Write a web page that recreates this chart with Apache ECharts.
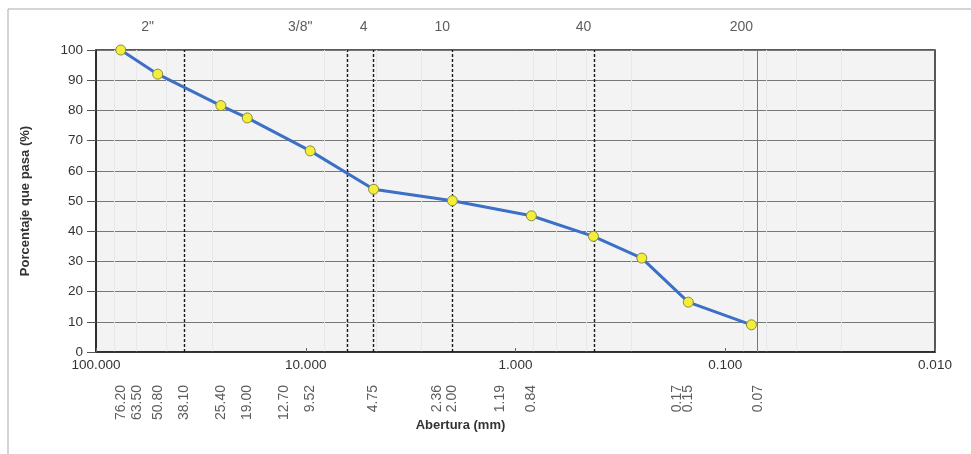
<!DOCTYPE html>
<html>
<head>
<meta charset="utf-8">
<script src="https://cdn.jsdelivr.net/npm/echarts@6/dist/echarts.min.js"></script>
<style>
  html, body { margin: 0; padding: 0; background: #fff; }
  #chart { width: 971px; height: 454px; }
</style>
</head>
<body>
<div id="chart"></div>
<script>
// curva granulometrica
var abertura = [76.2, 50.8, 25.4, 19.0, 9.52, 4.75, 2.0, 0.84, 0.425, 0.25, 0.15, 0.075];
var pasa = [100, 92, 81.6, 77.5, 66.6, 53.9, 50.1, 45.1, 38.3, 31.1, 16.5, 9.0];
// tamices (arriba)
var tamizNombre = ['2"', '3/8"', '4', '10', '40', '200'];
var tamizAbertura = [50.8, 9.52, 4.75, 2.0, 0.425, 0.075];
// aberturas escritas debajo del eje
var aberturaTexto = ['76.20', '63.50', '50.80', '38.10', '25.40', '19.00', '12.70', '9.52', '4.75', '2.36', '2.00', '1.19', '0.84', '0.17', '0.15', '0.07'];
var aberturaValor = [76.2, 63.5, 50.8, 38.1, 25.4, 19.0, 12.7, 9.52, 4.75, 2.36, 2.0, 1.19, 0.84, 0.17, 0.15, 0.07];
// lineas verticales
var lineasPunteadas = [38.1, 6.35, 4.75, 2.0, 0.425];
var lineaContinua = [0.075];

var font = 'Liberation Sans, Arial, sans-serif';
var chart = echarts.init(document.getElementById('chart'));

var marks = [];
for (var i = 0; i < lineasPunteadas.length; i++) {
    marks.push({ xAxis: lineasPunteadas[i], lineStyle: { type: [3, 2], color: '#1a1a1a', width: 1.4 } });
}
for (var j = 0; j < lineaContinua.length; j++) {
    marks.push({ xAxis: lineaContinua[j], lineStyle: { type: 'solid', color: '#777', width: 1 } });
}

var topData = tamizAbertura.map(function (v, k) { return { value: [v, 100], name: tamizNombre[k] }; });
var botData = aberturaValor.map(function (v, k) { return { value: [v, 0], name: aberturaTexto[k] }; });

chart.setOption({
    animation: false,
    backgroundColor: '#fff',
    graphic: [{
        type: 'rect', shape: { x: 8, y: 9, width: 980, height: 460 },
        style: { fill: 'none', stroke: '#aaa', lineWidth: 1 }, silent: true
    }],
    grid: {
        left: 96, right: 36, top: 50, bottom: 102,
        show: true, backgroundColor: '#f3f3f3', borderColor: '#222', borderWidth: 1.5
    },
    xAxis: {
        type: 'log', min: 0.01, max: 100, inverse: true, logBase: 10,
        name: 'Abertura (mm)', nameLocation: 'middle', nameGap: 67,
        nameTextStyle: { fontFamily: font, fontSize: 13, fontWeight: 'bold', color: '#333', padding: [0, 110, 0, 0] },
        axisLine: { show: true, lineStyle: { color: '#222', width: 1.5 } },
        axisTick: { show: true, inside: true, length: 4, lineStyle: { color: '#666' } },
        axisLabel: {
            fontFamily: font, fontSize: 13.5, color: '#333', margin: 6,
            formatter: function (v) { return Number(v).toFixed(3); }
        },
        splitLine: { show: false },
        minorTick: { show: false },
        minorSplitLine: { show: true, lineStyle: { color: '#e8e8e8', width: 1 } }
    },
    yAxis: {
        type: 'value', min: 0, max: 100, interval: 10,
        name: 'Porcentaje que pasa (%)', nameLocation: 'middle', nameGap: 64,
        nameTextStyle: { fontFamily: font, fontSize: 13, fontWeight: 'bold', color: '#333' },
        axisLine: { show: true, lineStyle: { color: '#222', width: 1.5 } },
        axisTick: { show: true, length: 9, lineStyle: { color: '#555' } },
        axisLabel: { fontFamily: font, fontSize: 13.5, color: '#333', margin: 13 },
        splitLine: { show: true, lineStyle: { color: '#777', width: 1 } }
    },
    series: [{
        type: 'line',
        data: abertura.map(function (v, k) { return [v, pasa[k]]; }),
        lineStyle: { color: '#3c6fc6', width: 3 },
        symbol: 'circle', symbolSize: 10,
        itemStyle: { color: '#f2ee3a', borderColor: '#8a8a40', borderWidth: 1 },
        markLine: { silent: true, symbol: 'none', label: { show: false }, data: marks },
        z: 5
    }, {
        type: 'scatter', data: topData, symbolSize: 0, clip: false, silent: true,
        label: {
            show: true, position: 'top', distance: 16, offset: [-10, 0],
            formatter: '{b}', fontFamily: font, fontSize: 14, color: '#333'
        }
    }, {
        type: 'scatter', data: botData, symbolSize: 0, clip: false, silent: true,
        label: {
            show: true, position: 'bottom', rotate: 90, distance: 33,
            align: 'right', verticalAlign: 'middle',
            formatter: '{b}', fontFamily: font, fontSize: 14, color: '#333'
        }
    }]
});
</script>
</body>
</html>
